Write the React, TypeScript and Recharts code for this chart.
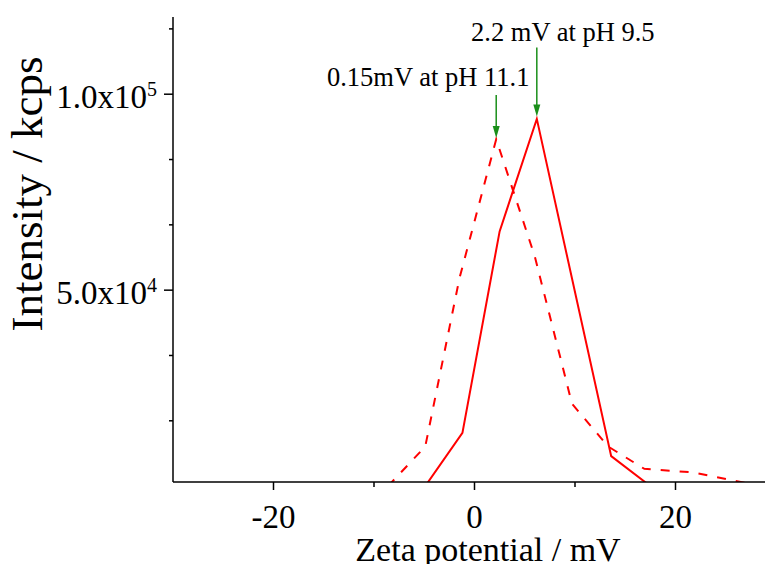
import React from 'react';
import { Label, Line, LineChart, ReferenceLine, XAxis, YAxis } from 'recharts';

// zeta potential distributions (mV vs intensity)
const solidX = [-4.9, -1.2, 2.5, 6.2, 13.6, 17.5];
const solidY = [0, 13600, 65000, 93700, 7650, 0];
const dashedX = [-8.6, -4.9, -1.5, 2.16, 6.0, 9.7, 13.3, 16.9, 21.8, 28.5];
const dashedY = [0, 10100, 53000, 88500, 58600, 21000, 10100, 4400, 3500, 0];

const xTicks = [-20, -10, 0, 10, 20];
const xTickLabels: Record<string, string> = { '-20': '-20', '0': '0', '20': '20' };
const yTicks = [16667, 33333, 50000, 66667, 83333, 100000, 116667];
const yTickLabels: Record<string, [string, string]> = {
  '50000': ['5.0x10', '4'],
  '100000': ['1.0x10', '5'],
};

const arrowX = [6.2, 2.16];
const arrowTop = [111900, 99800];
const arrowTip = [94300, 88800];
const arrowText = ['2.2 mV at pH 9.5', '0.15mV at pH 11.1'];

const FONT = '"Liberation Serif", "Times New Roman", serif';
const RED = '#ff0000';
const GREEN = '#1a8f1a';

const solid = solidX.map((x, i) => ({ x, y: solidY[i] }));
const dashed = dashedX.map((x, i) => ({ x, y: dashedY[i] }));

const XTick = (props: any) => {
  const { x, y, payload } = props;
  const label = xTickLabels[String(payload.value)];
  return (
    <g>
      <line x1={x} x2={x} y1={y} y2={y + (label ? 8 : 5)} stroke='#000' strokeWidth={1.5} />
      {label && (
        <text x={x} y={y + 46} textAnchor='middle' fontSize={33} fontFamily={FONT} fill='#000'>
          {label}
        </text>
      )}
    </g>
  );
};

const YTick = (props: any) => {
  const { x, y, payload } = props;
  const label = yTickLabels[String(payload.value)];
  return (
    <g>
      <line x1={x - (label ? 9 : 4)} x2={x} y1={y} y2={y} stroke='#000' strokeWidth={1.5} />
      {label && (
        <text x={x - 16} y={y + 14} textAnchor='end' fontSize={33} fontFamily={FONT} fill='#000'>
          {label[0]}
          <tspan dy={-12} fontSize={20}>
            {label[1]}
          </tspan>
        </text>
      )}
    </g>
  );
};

const arrowShape = (text: string, dx: number, dy: number) => (props: any) => {
  const { x1, y1, x2, y2 } = props;
  return (
    <g>
      <line x1={x1} x2={x2} y1={y1} y2={y2 - 10} stroke={GREEN} strokeWidth={1.5} />
      <polygon points={`${x2 - 3.5},${y2 - 12} ${x2 + 3.5},${y2 - 12} ${x2},${y2}`} fill={GREEN} />
      <text x={x1 + dx} y={y1 + dy} textAnchor='middle' fontSize={26.5} fontFamily={FONT} fill='#000'>
        {text}
      </text>
    </g>
  );
};

const textOffsets = [
  [26, -7],
  [-68, -9],
];

export default function App() {
  return (
    <div
      style={{
        position: 'fixed',
        top: 0,
        left: 0,
        width: 765,
        height: 564,
        overflow: 'hidden',
        background: '#fff',
      }}
    >
      <LineChart width={800} height={564} margin={{ top: 17, right: 24, left: 0, bottom: 0 }}>
        <XAxis
          type='number'
          dataKey='x'
          domain={[-30, 30]}
          ticks={xTicks}
          allowDataOverflow
          tick={<XTick />}
          tickLine={false}
          tickSize={0}
          tickMargin={0}
          height={82}
          axisLine={{ stroke: '#000', strokeWidth: 1.5 }}
        >
          <Label
            content={(p: any) => (
              <text
                x={p.viewBox.x + 315}
                y={p.viewBox.y + 79}
                textAnchor='middle'
                fontSize={34}
                fontFamily={FONT}
                fill='#000'
              >
                Zeta potential / mV
              </text>
            )}
          />
        </XAxis>
        <XAxis
          xAxisId='top'
          orientation='top'
          type='number'
          domain={[-30, 30]}
          tick={false}
          tickLine={false}
          height={0}
          axisLine={{ stroke: '#000', strokeWidth: 1.5 }}
        />
        <YAxis
          type='number'
          domain={[1050, 119700]}
          ticks={yTicks}
          allowDataOverflow
          tick={<YTick />}
          tickLine={false}
          tickSize={0}
          tickMargin={0}
          width={173}
          axisLine={{ stroke: '#000', strokeWidth: 1.5 }}
        >
          <Label
            content={(p: any) => {
              const cx = p.viewBox.x + 42;
              const cy = p.viewBox.y + 177;
              return (
                <text
                  x={cx}
                  y={cy}
                  transform={`rotate(-90 ${cx} ${cy})`}
                  textAnchor='middle'
                  fontSize={45}
                  fontFamily={FONT}
                  fill='#000'
                >
                  Intensity / kcps
                </text>
              );
            }}
          />
        </YAxis>
        <Line
          data={dashed}
          dataKey='y'
          type='linear'
          stroke={RED}
          strokeWidth={2}
          strokeDasharray='9 10'
          dot={false}
          isAnimationActive={false}
        />
        <Line
          data={solid}
          dataKey='y'
          type='linear'
          stroke={RED}
          strokeWidth={2}
          dot={false}
          isAnimationActive={false}
        />
        {arrowX.map((ax, i) => (
          <ReferenceLine
            key={i}
            segment={[
              { x: ax, y: arrowTop[i] },
              { x: ax, y: arrowTip[i] },
            ]}
            shape={arrowShape(arrowText[i], textOffsets[i][0], textOffsets[i][1])}
          />
        ))}
      </LineChart>
    </div>
  );
}
